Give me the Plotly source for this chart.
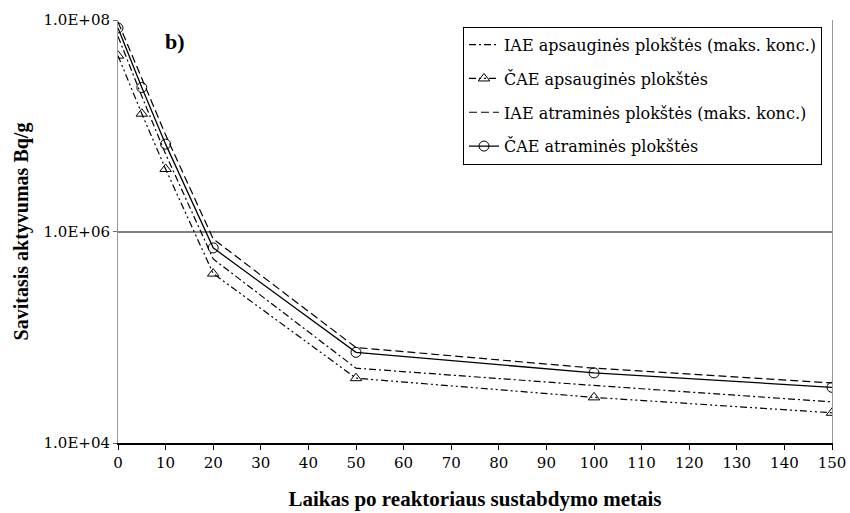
import plotly.graph_objects as go

years = [0, 5, 10, 20, 50, 100, 150]

iae_apsaug = [7.0e7, 1.9e7, 5.4e6, 5.5e5, 5.1e4, 3.5e4, 2.45e4]
cae_apsaug = [4.6e7, 1.3e7, 3.9e6, 4.0e5, 4.1e4, 2.7e4, 1.93e4]
iae_atram = [9.6e7, 2.8e7, 8.2e6, 8.5e5, 8.0e4, 5.1e4, 3.7e4]
cae_atram = [8.4e7, 2.3e7, 6.7e6, 7.0e5, 7.2e4, 4.6e4, 3.36e4]

names = [
    "IAE apsauginės plokštės (maks. konc.)",
    "ČAE apsauginės plokštės",
    "IAE atraminės plokštės (maks. konc.)",
    "ČAE atraminės plokštės",
]
y_ticks = [1e4, 1e6, 1e8]
y_tick_text = ["1.0E+04", "1.0E+06", "1.0E+08"]
x_ticks = list(range(0, 151, 10))

bold_serif = "Liberation Serif"
serif = "DejaVu Serif"

fig = go.Figure()
fig.add_trace(go.Scatter(
    x=years, y=iae_apsaug, name=names[0], mode="lines",
    line=dict(color="black", width=1.2, dash="7px,3px,2px,3px"),
    legendgroup="a"))
fig.add_trace(go.Scatter(
    x=years, y=cae_apsaug, name=names[1], mode="lines+markers",
    line=dict(color="black", width=1.2, dash="7px,3px,2px,3px,2px,3px"),
    marker=dict(symbol="triangle-up-open", size=10, color="black", line=dict(width=1)),
    legendgroup="b"))
fig.add_trace(go.Scatter(
    x=years, y=iae_atram, name=names[2], mode="lines",
    line=dict(color="black", width=1.2, dash="8px,4px"),
    legendgroup="c"))
fig.add_trace(go.Scatter(
    x=years, y=cae_atram, name=names[3], mode="lines+markers",
    line=dict(color="black", width=1.3),
    marker=dict(symbol="circle-open", size=10, color="black", line=dict(width=1)),
    legendgroup="d"))

fig.add_annotation(x=12, y=7.8, xref="x", yref="y", text="<b>b)</b>",
                   showarrow=False, font=dict(family=bold_serif, size=22, color="black"))

fig.update_layout(
    width=850, height=513,
    margin=dict(l=118, r=18, t=20, b=70),
    paper_bgcolor="white", plot_bgcolor="white",
    font=dict(family=serif, size=15, color="black"),
    showlegend=True,
    legend=dict(
        x=0.986, y=0.984, xanchor="right", yanchor="top",
        bordercolor="black", borderwidth=1, bgcolor="white",
        font=dict(family=serif, size=16, color="black"),
        traceorder="grouped", tracegroupgap=10,
    ),
    xaxis=dict(
        range=[0, 150], tickmode="array", tickvals=x_ticks,
        showline=True, linecolor="black", linewidth=1.5,
        ticks="outside", ticklen=5, tickcolor="black",
        showgrid=False, zeroline=False, automargin=False,
        tickfont=dict(family=serif, size=15),
        title=dict(text="<b>Laikas po reaktoriaus sustabdymo metais</b>",
                   font=dict(family=bold_serif, size=21), standoff=21),
    ),
    yaxis=dict(
        type="log", range=[4, 8], tickmode="array",
        tickvals=y_ticks, ticktext=y_tick_text,
        showline=True, linecolor="#999999", linewidth=1, mirror=True,
        ticks="outside", ticklen=4, tickcolor="#666666",
        showgrid=True, gridcolor="#808080", gridwidth=2,
        zeroline=False, automargin=False,
        tickfont=dict(family=serif, size=15),
        title=dict(text="<b>Savitasis aktyvumas Bq/g</b>",
                   font=dict(family=bold_serif, size=20), standoff=9),
    ),
)

fig.write_html("out.html")
